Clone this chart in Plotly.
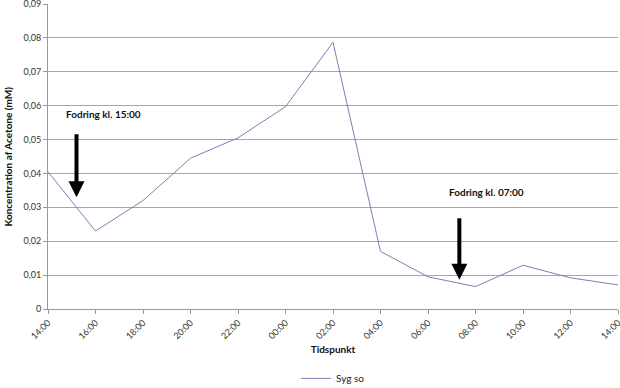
import plotly.graph_objects as go

tidspunkt = ["14:00", "16:00", "18:00", "20:00", "22:00", "00:00", "02:00",
             "04:00", "06:00", "08:00", "10:00", "12:00", "14:00"]
syg_so = [0.0405, 0.0230, 0.0320, 0.0445, 0.0505, 0.0597, 0.0787,
          0.0170, 0.0095, 0.0066, 0.0129, 0.0092, 0.0071]
y_ticks = [0, 0.01, 0.02, 0.03, 0.04, 0.05, 0.06, 0.07, 0.08, 0.09]
y_ticktext = ["0", "0,01", "0,02", "0,03", "0,04", "0,05", "0,06", "0,07", "0,08", "0,09"]

xpos = list(range(len(tidspunkt)))
font = "Lato, Open Sans, sans-serif"

fig = go.Figure()
fig.add_trace(go.Scatter(x=xpos, y=syg_so, mode="lines", name="Syg so",
                         line=dict(color="#7F7DB0", width=1)))

fig.update_layout(
    width=620, height=388,
    margin=dict(l=48, r=2, t=4, b=79, autoexpand=False),
    paper_bgcolor="white", plot_bgcolor="white",
    font=dict(family=font, size=9, color="#333333"),
    showlegend=True,
    legend=dict(orientation="h", x=0.5, xanchor="center", y=-0.18, yanchor="top",
                font=dict(size=10, color="#222222")),
    xaxis=dict(range=[0, 12], tickmode="array", tickvals=xpos, ticktext=tidspunkt,
               tickangle=-45, showgrid=False, showline=True, linecolor="#999999",
               linewidth=1, ticks="outside", ticklen=4, tickcolor="#999999",
               zeroline=False, automargin=False, ticklabeloverflow="allow",
               title=dict(text="<b>Tidspunkt</b>", font=dict(size=10, color="#111111"),
                          standoff=5)),
    yaxis=dict(range=[0, 0.09], tickmode="array", tickvals=y_ticks, ticktext=y_ticktext,
               showgrid=True, gridcolor="#A6A6A6", gridwidth=1, showline=True,
               linecolor="#999999", ticks="outside", ticklen=4, tickcolor="#999999",
               zeroline=False, automargin=False, ticklabeloverflow="allow"),
    annotations=[
        dict(x=0, y=0.5, xref="paper", yref="paper", xanchor="center", yanchor="middle",
             xshift=-41, textangle=-90, showarrow=False,
             text="<b>Koncentration af Acetone (mM)</b>", font=dict(size=10, color="#111111")),
        dict(x=0.6, y=0.0330, ax=0.6, ay=0.0520, xref="x", yref="y", axref="x", ayref="y",
             showarrow=True, arrowhead=2, arrowsize=0.8, arrowwidth=4, arrowcolor="#000000",
             text=""),
        dict(x=8.66, y=0.0086, ax=8.66, ay=0.0272, xref="x", yref="y", axref="x", ayref="y",
             showarrow=True, arrowhead=2, arrowsize=0.8, arrowwidth=4, arrowcolor="#000000",
             text=""),
        dict(x=1.16, y=0.0574, xref="x", yref="y", showarrow=False,
             text="<b>Fodring kl. 15:00</b>", font=dict(size=10, color="#111111")),
        dict(x=9.24, y=0.0344, xref="x", yref="y", showarrow=False,
             text="<b>Fodring kl. 07:00</b>", font=dict(size=10, color="#111111")),
    ],
)

fig.write_html("out.html", config={"displayModeBar": False})

with open("out.html", "r", encoding="utf-8") as f:
    html = f.read()
html = html.replace("<body>", '<body style="margin:0;padding:0;overflow:hidden">', 1)
with open("out.html", "w", encoding="utf-8") as f:
    f.write(html)
